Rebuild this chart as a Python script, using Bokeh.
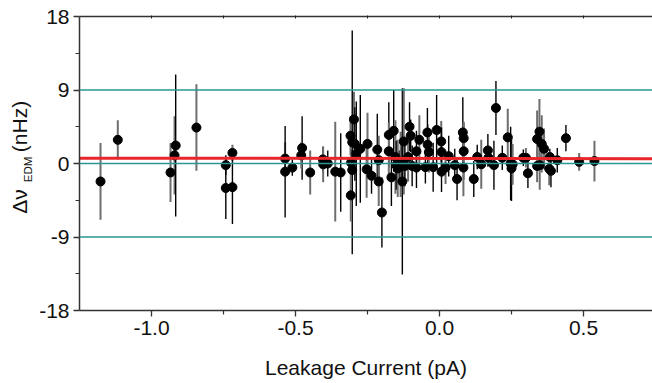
import math
import numpy as np
from bokeh.plotting import figure
from bokeh.layouts import row
from bokeh.models import ColumnDataSource, FixedTicker, LinearAxis, Span
from bokeh.core.properties import value
from bokeh.embed import file_html
from bokeh.resources import INLINE

# Leakage current (pA), EDM frequency shift (nHz), 1-sigma error (nHz), bar style
leak_pA = [
    -1.177, -1.117, -0.934, -0.920, -0.916, -0.844, -0.742, -0.742, -0.719, -0.719,
    -0.536, -0.536, -0.511, -0.477, -0.480, -0.449, -0.405, -0.404, -0.388, -0.362,
    -0.343, -0.297, -0.309, -0.303, -0.294, -0.289, -0.307, -0.303, -0.308, -0.275,
    -0.250, -0.253, -0.236, -0.216, -0.211, -0.211, -0.200, -0.176, -0.159, -0.176,
    -0.167, -0.153, -0.150, -0.140, -0.135, -0.129, -0.124, -0.104, -0.100, -0.109,
    -0.095, -0.080, -0.070, -0.080, -0.049, -0.042, -0.041, -0.037, -0.022, -0.010,
    0.006, 0.007, 0.007, 0.021, 0.032, 0.053, 0.061, 0.081, 0.084, 0.084,
    0.083, 0.119, 0.131, 0.145, 0.168, 0.189, 0.196, 0.237, 0.247, 0.250,
    0.254, 0.291, 0.300, 0.307, 0.339, 0.347, 0.355, 0.363, 0.339, 0.348,
    0.383, 0.381, 0.387, 0.409, 0.439, 0.485, 0.538, 0.170, 0.218, -0.145,
    -0.120, -0.130,
]
dnu_nHz = [
    -2.2, 2.9, -1.1, 1.0, 2.2, 4.4, -0.2, -3.0, 1.3, -2.9,
    0.6, -1.0, -0.5, 1.9, 1.0, -1.1, 0.5, -0.1, 0.0, -1.0,
    -1.1, 5.4, 3.4, 2.6, 2.4, 1.2, 0.1, -0.8, -3.9, 1.8,
    2.4, -0.7, -1.5, 1.7, 0.4, -2.2, -6.0, 3.5, 4.0, 1.5,
    -1.7, 0.8, -0.2, -0.4, -0.1, -2.2, 2.7, 4.5, 3.4, 0.8,
    -0.3, 1.5, 2.9, -0.5, -0.45, 3.8, 2.3, 1.4, -0.45, 4.1,
    2.7, 1.4, -1.0, -0.5, 0.9, -0.2, -1.9, 3.8, 3.1, 1.5,
    -0.5, -1.9, 0.8, -0.1, 1.6, -0.2, 6.8, 3.2, 0.0, -0.6,
    -0.1, 0.7, 0.7, -1.2, 3.0, 3.9, 2.4, 1.8, -0.3, -0.2,
    0.8, -0.65, -0.9, 0.4, 3.1, 0.2, 0.3, 0.7, 0.7, -0.6,
    -0.3, 0.2,
]
sigma_nHz = [
    4.7, 2.4, 3.6, 4.8, 8.7, 5.3, 1.2, 3.8, 1.0, 4.5,
    2.0, 5.6, 1.0, 3.9, 1.6, 2.7, 1.5, 2.2, 1.6, 6.1,
    4.8, 3.4, 2.4, 13.7, 4.5, 6.4, 3.0, 2.5, 3.2, 6.6,
    3.8, 3.5, 2.2, 4.4, 3.0, 3.0, 4.3, 4.0, 5.0, 3.5,
    3.5, 4.5, 3.0, 2.0, 4.0, 11.4, 6.5, 3.0, 2.0, 3.0,
    2.5, 2.5, 3.0, 2.5, 2.0, 3.0, 2.5, 2.5, 3.0, 4.3,
    2.5, 3.0, 2.5, 2.0, 2.5, 2.0, 2.6, 4.3, 2.0, 3.5,
    3.5, 2.2, 1.5, 3.0, 2.0, 3.0, 3.3, 3.5, 4.5, 4.0,
    2.5, 1.0, 1.2, 1.8, 3.5, 4.0, 3.5, 2.5, 2.0, 3.0,
    1.0, 2.0, 2.0, 1.5, 1.6, 1.1, 2.5, 1.0, 1.5, 3.5,
    2.5, 2.0,
]
bar_style = list(
    "ggggbgbbgb"
    "gbbbggbgbg"
    "bggbbbgbgb"
    "ggbbggbbbg"
    "bgbbgbgbbg"
    "bbgbbbbgbb"
    "gbbgbbbbgg"
    "gbbgbbbgbb"
    "gbgbgggggg"
    "bgbbbggbbg"
    "bb"
)

# Straight-line fit and reference levels
fit_x = [-1.25, 0.74]
fit_y = [0.65, 0.58]
ref_levels = [9, 0, -9]

x_ticks = [-1.0, -0.5, 0.0, 0.5]
x_minor = [-0.75, -0.25, 0.25]
y_ticks = [-18, -9, 0, 9, 18]
y_minor = [-13.5, -4.5, 4.5, 13.5]

# Y-axis title pieces: text, size, centre x (px), centre y (px from top)
title_parts = ["Δν", "EDM", "(nHz)"]
title_sizes = ["21px", "11.5px", "21px"]
title_cx = [19, 27.5, 19]
title_cy = [201, 169, 126]

# Layout geometry (pixels)
FIG_W, FIG_H = 652, 383
TITLE_W = 35
L, T, H = 79, 16, 294
B = FIG_H - T - H
W = FIG_W - L
PX_PER_X = 288.0
x0 = -1.25
x1 = x0 + W / PX_PER_X
y0, y1 = -18, 18


def sy(py):
    return y1 - (py - T) * (y1 - y0) / H


FONT = "Liberation Sans"
INK = "#111111"

p = figure(width=FIG_W - TITLE_W, height=FIG_H, output_backend="svg",
           toolbar_location=None, x_range=(x0, x1), y_range=(y0, y1),
           min_border_left=L - TITLE_W, min_border_right=0, min_border_top=T,
           min_border_bottom=B)
p.outline_line_color = None
p.xgrid.visible = False
p.ygrid.visible = False

# Narrow column holding the rotated y-axis title, sharing the vertical scale
tcol = figure(width=TITLE_W, height=FIG_H, output_backend="svg", toolbar_location=None,
              x_range=(0, TITLE_W), y_range=p.y_range,
              x_axis_type=None, y_axis_type=None,
              min_border=0, min_border_left=0, min_border_right=0,
              min_border_top=T, min_border_bottom=B)
tcol.outline_line_color = None
tcol.xgrid.visible = False
tcol.ygrid.visible = False
tsrc = ColumnDataSource(dict(x=title_cx, y=[sy(v) for v in title_cy],
                             t=title_parts, s=title_sizes))
tcol.text(x="x", y="y", text="t", source=tsrc, angle=math.pi / 2,
          text_font=value(FONT), text_font_size="s", text_color=INK,
          text_align="center", text_baseline="middle")

for lvl in ref_levels:
    p.add_layout(Span(location=lvl, dimension="width", line_color="#2a9793",
                      line_width=1.5))

x = np.array(leak_pA)
y = np.array(dnu_nHz)
e = np.array(sigma_nHz)
colors = ["#6e6e6e" if s == "g" else "#000000" for s in bar_style]
widths = [2.0 if s == "g" else 1.4 for s in bar_style]
src = ColumnDataSource(dict(x=x, y=y, lo=y - e, hi=y + e, c=colors, w=widths))

p.segment(x0="x", y0="lo", x1="x", y1="hi", source=src,
          line_color="c", line_width="w")
p.scatter("x", "y", source=src, size=9, fill_color="black", line_color="black")
p.line(fit_x, fit_y, line_color="#e8262b", line_width=3)

# Bottom axis
xa = p.xaxis[0]
xa.ticker = FixedTicker(ticks=x_ticks, minor_ticks=x_minor)
xa.major_label_overrides = {v: f"{v:.1f}" for v in x_ticks}
xa.axis_label = "Leakage Current (pA)"
# Left axis
ya = p.yaxis[0]
ya.ticker = FixedTicker(ticks=y_ticks, minor_ticks=y_minor)
ya.major_label_overrides = {v: str(v) for v in y_ticks}

for ax in (xa, ya):
    ax.axis_line_color = "#333333"
    ax.axis_line_width = 1.5
    ax.major_tick_line_color = "#333333"
    ax.minor_tick_line_color = "#333333"
    ax.major_tick_line_width = 1.3
    ax.minor_tick_line_width = 1.2
    ax.major_tick_in = 0
    ax.major_tick_out = 6
    ax.minor_tick_in = 0
    ax.minor_tick_out = 4
    ax.major_label_text_font = FONT
    ax.major_label_text_font_size = "21px"
    ax.major_label_text_color = INK
    ax.major_label_standoff = 4
xa.axis_label_text_font = FONT
xa.axis_label_text_font_size = "21px"
xa.axis_label_text_font_style = "normal"
xa.axis_label_text_color = INK
xa.axis_label_standoff = 18

# Top border with small ticks, no labels
top = LinearAxis(ticker=FixedTicker(ticks=x_ticks, minor_ticks=x_minor),
                 major_label_text_font_size="0px", major_label_text_alpha=0,
                 axis_line_color="#333333", axis_line_width=1.5,
                 major_tick_in=2, major_tick_out=1, minor_tick_in=2, minor_tick_out=1,
                 major_tick_line_color="#222222", minor_tick_line_color="#222222")
top.major_label_overrides = {v: "" for v in x_ticks}
p.add_layout(top, "above")

layout = row(tcol, p, spacing=0)
open("out.html", "w").write(file_html(layout, INLINE))
